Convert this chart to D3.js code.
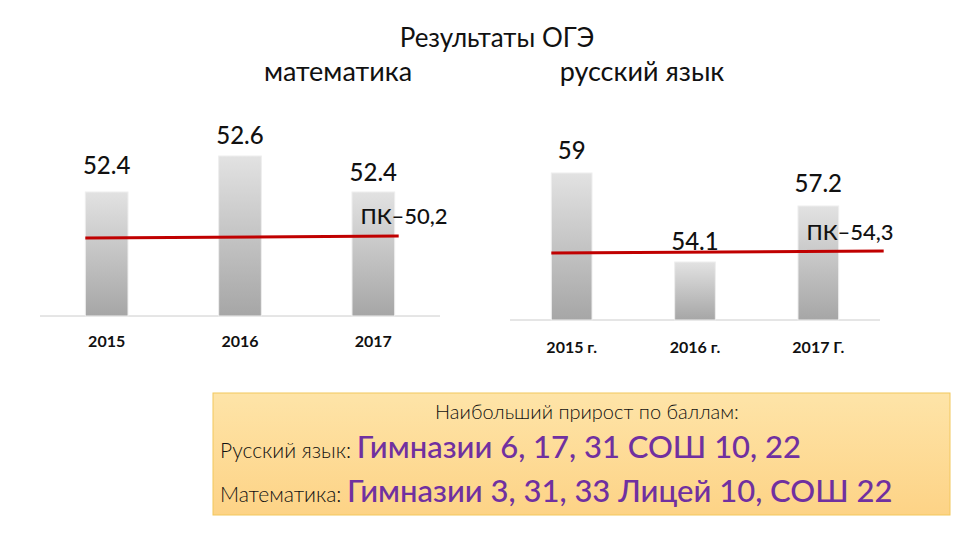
<!DOCTYPE html><html><head><meta charset="utf-8">
<script src="https://cdn.jsdelivr.net/npm/d3@7"></script>
<style>body{margin:0;background:#fff}text{font-family:Lato,"Open Sans",sans-serif}</style></head><body>
<svg id="c" width="960" height="540"></svg>
<script>
const mathYears=["2015","2016","2017"];
const mathValues=[52.4,52.6,52.4];
const mathPK=50.2, mathPKLabel="ПК–50,2";
const rusYears=["2015 г.","2016 г.","2017 Г."];
const rusValues=[59,54.1,57.2];
const rusPK=54.3, rusPKLabel="ПК–54,3";
const boxHeader="Наибольший прирост по баллам:";
const boxLabels=["Русский язык:","Математика:"];
const boxValues=["Гимназии 6, 17, 31 СОШ 10, 22","Гимназии 3, 31, 33 Лицей 10, СОШ 22"];

const svg=d3.select("#c");
const defs=svg.append("defs");
const g=defs.append("linearGradient").attr("id","bg").attr("x1",0).attr("x2",0).attr("y1",0).attr("y2",1);
g.append("stop").attr("offset",0).attr("stop-color","#e2e2e2");
g.append("stop").attr("offset",1).attr("stop-color","#a6a6a6");
const og=defs.append("linearGradient").attr("id","og").attr("x1",0).attr("x2",0).attr("y1",0).attr("y2",1);
og.append("stop").attr("offset",0).attr("stop-color","#fee4a8");
og.append("stop").attr("offset",1).attr("stop-color","#fdd386");

svg.append("text").attr("x",497).attr("y",47).attr("text-anchor","middle").attr("font-size",26).attr("fill","#111").text("Результаты ОГЭ");
svg.append("text").attr("x",338).attr("y",81).attr("text-anchor","middle").attr("font-size",27).attr("fill","#111").text("математика");
svg.append("text").attr("x",642).attr("y",81).attr("text-anchor","middle").attr("font-size",27).attr("fill","#111").text("русский язык");

function chart(cfg){
  const x=d3.scaleBand().domain(cfg.cats).range(cfg.xr).paddingInner(cfg.pad).paddingOuter(cfg.pad/2);
  const y=d3.scaleLinear().domain(cfg.yd).range(cfg.yr);
  const gg=svg.append("g");
  gg.append("g").attr("transform",`translate(0,${cfg.yr[0]})`)
    .call(d3.axisBottom(x).tickSize(0).tickPadding(cfg.tp))
    .call(a=>{a.select(".domain").attr("stroke","#ccc");a.selectAll("text").attr("font-size",cfg.tfs).attr("font-weight","bold").attr("fill","#111").style("font-family","Lato,sans-serif");})
    .call(a=>a.select(".domain").attr("d",`M${cfg.axis[0]},0H${cfg.axis[1]}`));
  gg.selectAll("rect.b").data(cfg.vals).join("rect").attr("class","b")
    .attr("x",(d,i)=>x(cfg.cats[i])).attr("width",x.bandwidth())
    .attr("y",d=>y(d)).attr("height",d=>cfg.yr[0]-y(d)).attr("fill","url(#bg)").attr("stroke","#eee");
  gg.selectAll("text.v").data(cfg.vals).join("text").attr("class","v")
    .attr("x",(d,i)=>x(cfg.cats[i])+x.bandwidth()/2).attr("y",(d,i)=>y(d)+cfg.loy[i])
    .attr("text-anchor","middle").attr("font-size",24).attr("font-weight",500).attr("fill","#111").text(d=>d);
  gg.append("line").attr("x1",x(cfg.cats[0])).attr("x2",x(cfg.cats[2])+x.bandwidth()+cfg.lineExt)
    .attr("y1",y(cfg.pk)+1).attr("y2",y(cfg.pk)-1).attr("stroke","#c00000").attr("stroke-width",3);
  gg.append("text").attr("x",cfg.pkx).attr("y",y(cfg.pk)+cfg.pky).attr("text-anchor","middle")
    .attr("font-size",22).attr("font-weight",500).attr("fill","#111").text(cfg.pkl);
}
chart({cats:mathYears,vals:mathValues,pk:mathPK,pkl:mathPKLabel,xr:[40,440],pad:0.68,axis:[40,440],
  yd:[0,50.2,52.4,52.6],yr:[316,237,192,156],tp:20,tfs:16,loy:[-18,-12,-11],pkx:404,pky:-13,lineExt:4});
chart({cats:rusYears,vals:rusValues,pk:rusPK,pkl:rusPKLabel,xr:[510,880],pad:0.67,axis:[510,880],
  yd:[0,54.1,54.3,57.2,59],yr:[320,262,252,206,173],tp:22,tfs:16,loy:[-14,-12,-14],pkx:850,pky:-12,lineExt:45});

svg.append("rect").attr("x",213).attr("y",393).attr("width",737).attr("height",122).attr("fill","url(#og)").attr("stroke","#f2c75c");
svg.append("text").attr("x",587).attr("y",419).attr("text-anchor","middle").attr("font-size",20).attr("font-weight",300).attr("fill","#111").text(boxHeader);
[458,502].forEach((yy,i)=>{
  const t=svg.append("text").attr("x",220).attr("y",yy);
  t.append("tspan").attr("font-size",21).attr("font-weight",300).attr("fill","#111").text(boxLabels[i]+" ");
  t.append("tspan").attr("font-size",31).attr("font-weight",500).attr("fill","#7030a0").text(boxValues[i]);
});
</script></body></html>
